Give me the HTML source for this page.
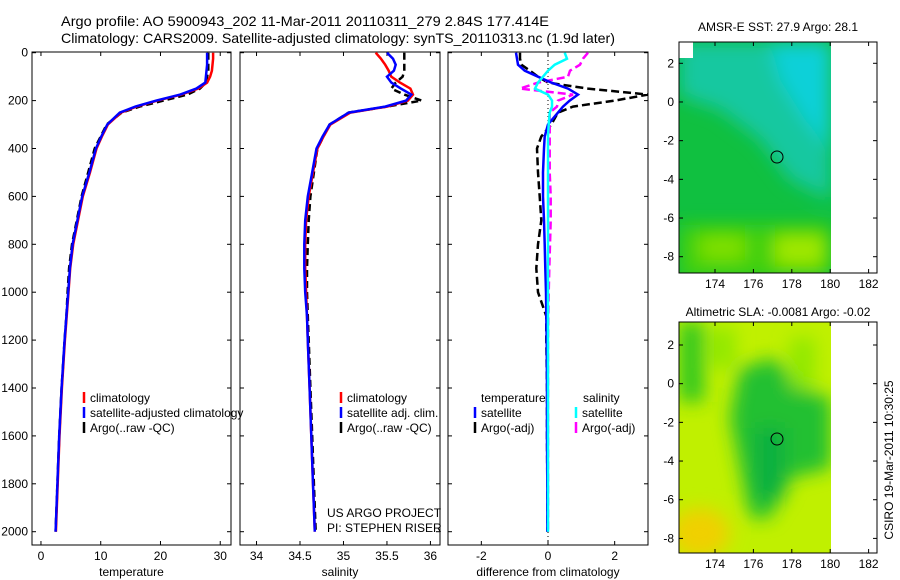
<!DOCTYPE html>
<html><head><meta charset="utf-8"><style>
html,body{margin:0;padding:0;background:#fff}
svg{display:block}
text{font-family:"Liberation Sans",sans-serif;fill:#000}
</style></head><body>
<svg id="fig" width="900" height="580" viewBox="0 0 900 580" xmlns="http://www.w3.org/2000/svg">
<defs>
<filter id="blur1" x="-20%" y="-20%" width="140%" height="140%"><feGaussianBlur stdDeviation="9"/></filter>
<clipPath id="c1"><rect x="679" y="42" width="152" height="231"/></clipPath>
<clipPath id="c2"><rect x="679" y="322" width="152" height="231"/></clipPath>
<clipPath id="cp1"><rect x="32" y="52" width="199" height="493"/></clipPath>
<clipPath id="cp2"><rect x="240" y="52" width="200" height="493"/></clipPath>
<clipPath id="cp3"><rect x="448" y="52" width="200" height="493"/></clipPath>
</defs>
<text x="61" y="26" font-size="14" textLength="488" lengthAdjust="spacingAndGlyphs">Argo profile: AO 5900943_202 11-Mar-2011 20110311_279 2.84S 177.414E</text>
<text x="61" y="43" font-size="14" textLength="554" lengthAdjust="spacingAndGlyphs">Climatology: CARS2009. Satellite-adjusted climatology: synTS_20110313.nc (1.9d later)</text>

<g id="panels"></g>

<!-- Map 1 -->
<g>
<g clip-path="url(#c1)">
<rect x="679" y="42" width="152" height="231" fill="#10c040"/>
<g filter="url(#blur1)">
<path d="M679 42 L831 42 L831 200 L790 180 L760 140 L720 110 L690 100 L679 95 Z" fill="#18c8a0"/>
<path d="M770 42 L831 42 L831 150 L805 120 L780 80 Z" fill="#10d0d8"/>
<rect x="679" y="225" width="152" height="55" fill="#40d010"/>
<rect x="700" y="235" width="45" height="25" fill="#80e000"/>
<rect x="775" y="235" width="50" height="30" fill="#a0e800"/>
</g>
<rect x="679" y="42" width="14" height="16" fill="#fff"/>
</g>
<rect x="679" y="42" width="198" height="231" fill="none" stroke="#000" stroke-width="1"/>
<circle cx="777" cy="157" r="6" fill="none" stroke="#000"/>
<text x="778" y="31" font-size="12" text-anchor="middle">AMSR-E SST: 27.9 Argo: 28.1</text>
</g>
<!-- Map 2 -->
<g>
<g clip-path="url(#c2)">
<rect x="679" y="322" width="152" height="231" fill="#c0f000"/>
<g filter="url(#blur1)">
<rect x="679" y="322" width="25" height="80" fill="#30c820"/>
<path d="M740 368 L775 358 L800 388 L831 398 L831 468 L790 478 L770 518 L750 518 L740 468 L730 418 Z" fill="#20c030"/>
<rect x="755" y="428" width="30" height="70" fill="#10b040"/>
<rect x="710" y="328" width="25" height="40" fill="#90e800"/>
<rect x="790" y="338" width="25" height="50" fill="#90e800"/>
<ellipse cx="700" cy="533" rx="30" ry="25" fill="#f0d000"/>
</g>
</g>
<rect x="679" y="322" width="198" height="231" fill="none" stroke="#000" stroke-width="1"/>
<circle cx="777" cy="439" r="6" fill="none" stroke="#000"/>
<text x="778" y="316" font-size="12" text-anchor="middle">Altimetric SLA: -0.0081 Argo: -0.02</text>
</g>
<text transform="translate(893,460) rotate(-90)" font-size="12" text-anchor="middle">CSIRO 19-Mar-2011 10:30:25</text>
<text x="327" y="517" font-size="12">US ARGO PROJECT</text>
<text x="327" y="532" font-size="12">PI: STEPHEN RISER</text>
</svg>
<script>
const depths=[0,25,50,75,100,125,150,175,200,225,250,300,350,400,500,600,700,800,900,1000,1100,1200,1400,1600,1800,2000];
const tempClim=[28.8,28.8,28.7,28.6,28.3,27.8,26.3,23.5,19.5,16,13.4,11.2,10.2,9.3,8.2,7.0,6.2,5.4,4.9,4.6,4.3,4.0,3.5,3.1,2.8,2.5];
const tempSat=[27.8,27.8,27.8,27.7,27.6,27.5,26.0,23.3,19.3,15.8,13.2,11.1,10.1,9.2,8.1,6.9,6.1,5.3,4.85,4.55,4.25,3.95,3.45,3.05,2.75,2.45];
const tempArgo=[28.0,28.0,28.0,28.0,27.8,27.6,26.6,24.5,20.5,16.5,13.5,11.0,10.0,9.0,7.9,6.8,6.0,5.2,4.7,4.45,4.25,3.95,3.45,3.05,2.75,2.45];
const salClim=[35.37,35.43,35.48,35.52,35.55,35.65,35.77,35.8,35.74,35.5,35.08,34.85,34.77,34.7,34.65,34.6,34.57,34.56,34.56,34.57,34.58,34.59,34.61,34.63,34.65,34.67];
const salSat=[35.5,35.57,35.6,35.58,35.5,35.55,35.66,35.78,35.72,35.48,35.06,34.84,34.76,34.69,34.64,34.59,34.56,34.55,34.55,34.56,34.58,34.59,34.61,34.63,34.65,34.67];
const salArgo=[35.7,35.7,35.7,35.7,35.68,35.6,35.55,35.7,35.9,35.5,35.06,34.84,34.77,34.7,34.66,34.62,34.6,34.59,34.58,34.58,34.59,34.6,34.62,34.64,34.66,34.68];
const dTempSat=[-0.96,-0.93,-0.9,-0.7,-0.3,0.1,0.6,0.9,0.65,0.45,0.3,0,-0.1,-0.12,-0.15,-0.15,-0.12,-0.1,-0.08,-0.06,-0.05,-0.04,-0.03,-0.03,-0.02,-0.02];
const dTempArgo=[-0.84,-0.84,-0.8,-0.54,-0.3,0,1.2,3.0,2.0,0.75,0.3,0.1,-0.2,-0.33,-0.3,-0.25,-0.2,-0.3,-0.35,-0.3,-0.05,-0.05,-0.03,-0.03,-0.02,-0.02];
const dSalSat=[0.5,0.57,0.2,0,-0.15,-0.3,-0.39,0,0.12,0.12,0.05,0.02,0,0,0,0,0,0,0,0,0,0,0,0,0,0];
const dSalArgo=[1.2,1.05,0.96,0.66,0.6,-0.3,-0.84,0.75,0.3,0.27,0.05,0.05,0.05,0.05,0.05,0.08,0.08,0.06,0.04,0.02,0.01,0,0,0,0,0];
const depthTicks=[0,200,400,600,800,1000,1200,1400,1600,1800,2000];
const tempTicks=[0,10,20,30];
const salTicks=[34,34.5,35,35.5,36];
const diffTicks=[-2,0,2];

const NS='http://www.w3.org/2000/svg';
const g=document.getElementById('panels');
const Y0=52.7,KY=0.2395,TOP=52,BOT=545;
function yS(d){return Y0+d*KY;}
function mk(tag,attrs,parent){const e=document.createElementNS(NS,tag);for(const k in attrs)e.setAttribute(k,attrs[k]);(parent||g).appendChild(e);return e;}
const panels=[
 {x0:32,x1:231,min:-1.5,max:31.8,ticks:tempTicks,label:'temperature',name:'temperature-panel',clip:'cp1'},
 {x0:240,x1:440,min:33.81,max:36.11,ticks:salTicks,label:'salinity',name:'salinity-panel',clip:'cp2'},
 {x0:448,x1:648,min:-3.0,max:3.0,ticks:diffTicks,label:'difference from climatology',name:'difference-panel',clip:'cp3'}
];
function xS(p,v){return p.x0+(v-p.min)/(p.max-p.min)*(p.x1-p.x0);}
panels.forEach((p,i)=>{
 const pg=mk('g',{});
 
 
 mk('rect',{x:p.x0,y:TOP,width:p.x1-p.x0,height:BOT-TOP,fill:'none',stroke:'#000','stroke-width':1},pg);
 p.ticks.forEach(t=>{const x=xS(p,t);
  mk('line',{x1:x,x2:x,y1:BOT,y2:BOT-4,stroke:'#000'},pg);
  mk('line',{x1:x,x2:x,y1:TOP,y2:TOP+4,stroke:'#000'},pg);
  const tx=mk('text',{x:x,y:BOT+15,'font-size':12,'text-anchor':'middle'},pg);tx.textContent=t;
  
  
 });
 depthTicks.forEach(d=>{const y=yS(d);
  mk('line',{x1:p.x0,x2:p.x0+4,y1:y,y2:y,stroke:'#000'},pg);
  mk('line',{x1:p.x1,x2:p.x1-4,y1:y,y2:y,stroke:'#000'},pg);
  if(i===0){const tx=mk('text',{x:28,y:y+4,'font-size':12,'text-anchor':'end'},pg);tx.textContent=d;
   
   }
 });
 const lb=mk('text',{x:(p.x0+p.x1)/2,y:576,'font-size':12,'text-anchor':'middle'},pg);lb.textContent=p.label;
 
 
 p.g=mk('g',{'clip-path':'url(#'+p.clip+')'},pg);
});
function line(p,vals,color,dash,name,w){
 const pts=vals.map((v,k)=>xS(p,v).toFixed(1)+','+yS(depths[k]).toFixed(1)).join(' ');
 const e=mk('polyline',{points:pts,fill:'none',stroke:color,'stroke-width':w||2.5,'stroke-dasharray':dash||'none'},p.g);
 
 
}
{const p=panels[2];const z=mk('line',{x1:xS(p,0),x2:xS(p,0),y1:TOP,y2:BOT,stroke:'#000','stroke-dasharray':'1,3'},p.g);
 
 }
line(panels[0],tempArgo,'#000','7,4','temp-argo-line');
line(panels[0],tempClim,'#f00',null,'temp-climatology-line');
line(panels[0],tempSat,'#00f',null,'temp-satellite-line');
line(panels[1],salArgo,'#000','7,4','sal-argo-line');
line(panels[1],salClim,'#f00',null,'sal-climatology-line');
line(panels[1],salSat,'#00f',null,'sal-satellite-line');
line(panels[2],dTempArgo,'#000','8,4','diff-temp-argo-line');
line(panels[2],dSalArgo,'#f0f','8,4','diff-sal-argo-line');
line(panels[2],dTempSat,'#00f',null,'diff-temp-satellite-line');
line(panels[2],dSalSat,'#0ff',null,'diff-sal-satellite-line');
function leg(x,y,color,label,name){
 const lg=mk('g',{});
 
 
 if(color) mk('line',{x1:x,x2:x,y1:y-10,y2:y+1,stroke:color,'stroke-width':2.5},lg);
 const t=mk('text',{x:x+6,y:y,'font-size':12},lg);t.textContent=label;
}
leg(84,402,'#f00','climatology','legend-entry-climatology');
leg(84,417,'#00f','satellite-adjusted climatology','legend-entry-satellite');
leg(84,432,'#000','Argo(..raw -QC)','legend-entry-argo');
leg(341,402,'#f00','climatology','legend-entry-climatology');
leg(341,417,'#00f','satellite adj. clim.','legend-entry-satellite');
leg(341,432,'#000','Argo(..raw -QC)','legend-entry-argo');
leg(475,402,null,'temperature','legend-header-temperature');
leg(577,402,null,'salinity','legend-header-salinity');
leg(475,417,'#00f','satellite','legend-entry-temp-satellite');
leg(475,432,'#000','Argo(-adj)','legend-entry-temp-argo');
leg(576,417,'#0ff','satellite','legend-entry-sal-satellite');
leg(576,432,'#f0f','Argo(-adj)','legend-entry-sal-argo');
const lonTicks=[174,176,178,180,182];
const latTicks=[2,0,-2,-4,-6,-8];
const fig=document.getElementById('fig');
[[42,273,63.3],[322,553,345]].forEach(([t,b,y2],mi)=>{
 lonTicks.forEach(l=>{const x=715+(l-174)*19.2;
  mk('line',{x1:x,x2:x,y1:b,y2:b-4,stroke:'#000'},fig);
  mk('line',{x1:x,x2:x,y1:t,y2:t+4,stroke:'#000'},fig);
  const tx=mk('text',{x:x,y:b+15,'font-size':12,'text-anchor':'middle'},fig);tx.textContent=l;
  
  });
 latTicks.forEach(l=>{const y=y2+(2-l)*19.34;
  mk('line',{x1:679,x2:683,y1:y,y2:y,stroke:'#000'},fig);
  mk('line',{x1:877,x2:873,y1:y,y2:y,stroke:'#000'},fig);
  const tx=mk('text',{x:674,y:y+4,'font-size':12,'text-anchor':'end'},fig);tx.textContent=l;
  
  });
});
</script>
</body></html>
